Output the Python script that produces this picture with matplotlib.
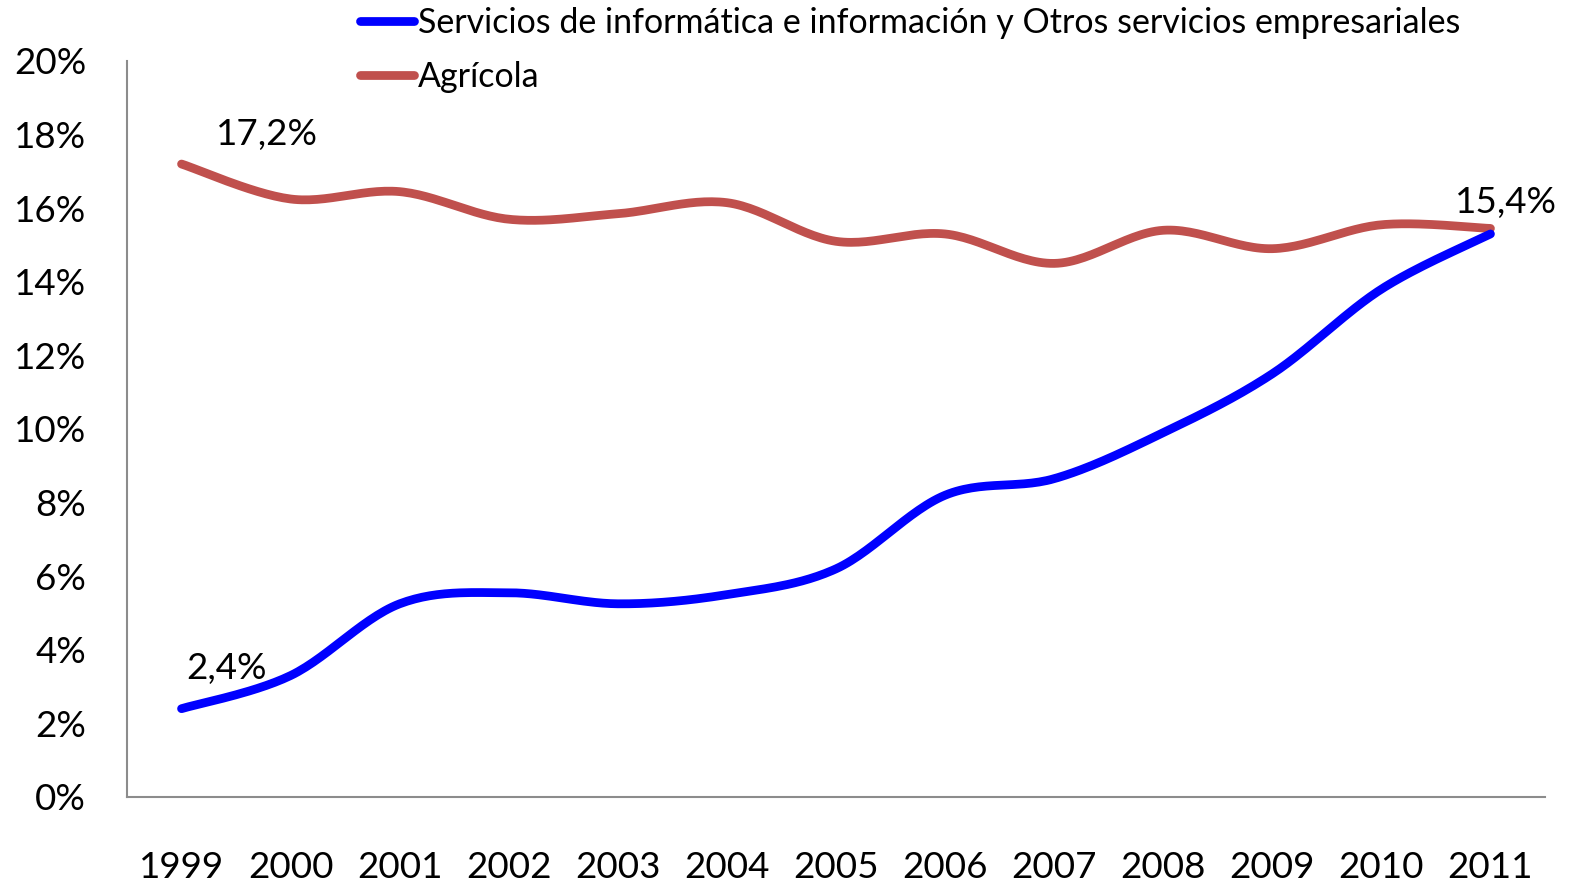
import numpy as np
import matplotlib
matplotlib.use('Agg')
import matplotlib.pyplot as plt
from matplotlib.ticker import FuncFormatter

plt.rcParams['font.family'] = ['Lato', 'DejaVu Sans']

years = ['1999', '2000', '2001', '2002', '2003', '2004', '2005',
         '2006', '2007', '2008', '2009', '2010', '2011']
servicios = [2.4, 3.3, 5.25, 5.55, 5.25, 5.5, 6.2, 8.2, 8.65, 9.9, 11.5, 13.8, 15.3]
agricola = [17.2, 16.25, 16.45, 15.7, 15.85, 16.15, 15.1, 15.3, 14.5, 15.4, 14.9, 15.55, 15.45]
name_serv = 'Servicios de informática e información y Otros servicios empresariales'
name_agri = 'Agrícola'

blue = '#0000FF'
red = '#C0504D'


def smooth(y, n=30):
    # curva suavizada tipo Excel (Catmull-Rom / Bezier)
    y = np.asarray(y, dtype=float)
    x = np.arange(len(y), dtype=float)
    pts = np.column_stack([x, y])
    out = []
    for i in range(len(pts) - 1):
        p0 = pts[max(i - 1, 0)]
        p1 = pts[i]
        p2 = pts[i + 1]
        p3 = pts[min(i + 2, len(pts) - 1)]
        c1 = p1 + (p2 - p0) / 6
        c2 = p2 - (p3 - p1) / 6
        t = np.linspace(0, 1, n)[:, None]
        seg = ((1 - t) ** 3) * p1 + 3 * ((1 - t) ** 2) * t * c1 + 3 * (1 - t) * t ** 2 * c2 + t ** 3 * p2
        out.append(seg if i == 0 else seg[1:])
    out = np.vstack(out)
    return out[:, 0], out[:, 1]


fig = plt.figure(figsize=(15.87, 8.83), dpi=100)
ax = fig.add_axes([127 / 1587, 1 - 797 / 883, (1545 - 127) / 1587, (797 - 61) / 883])

xs, ys = smooth(servicios)
ax.plot(xs, ys, color=blue, lw=6.3, solid_capstyle='round', label=name_serv, zorder=3)
xa, ya = smooth(agricola)
ax.plot(xa, ya, color=red, lw=6.3, solid_capstyle='round', label=name_agri, zorder=2)

ax.set_xlim(-0.5, len(years) - 0.5)
ax.set_ylim(0, 20)
ax.set_xticks(range(len(years)))
ax.set_xticklabels(years)
ax.set_yticks(np.arange(0, 21, 2))
ax.yaxis.set_major_formatter(FuncFormatter(lambda v, p: '{:d}%'.format(int(round(v)))))
ax.tick_params(axis='both', length=0, labelsize=26.5)
ax.tick_params(axis='x', pad=39)
ax.tick_params(axis='y', pad=29.5)

for s in ['top', 'right']:
    ax.spines[s].set_visible(False)
for s in ['left', 'bottom']:
    ax.spines[s].set_color('#8C8C8C')
    ax.spines[s].set_linewidth(1.5)

# etiquetas de datos
ax.annotate('17,2%', (0, agricola[0]), xytext=(85, 30), textcoords='offset pixels',
            ha='center', va='center', fontsize=26.5)
ax.annotate('2,4%', (0, servicios[0]), xytext=(45, 40), textcoords='offset pixels',
            ha='center', va='center', fontsize=26.5)
ax.annotate('15,4%', (12, agricola[-1]), xytext=(15, 26), textcoords='offset pixels',
            ha='center', va='center', fontsize=26.5)

fig.legend(loc='upper left', bbox_to_anchor=(360 / 1587, 1 - 7 / 883), frameon=False,
           fontsize=24.5, handlelength=1.6, handletextpad=0.1, labelspacing=0.65,
           borderaxespad=0, borderpad=0)

fig.savefig('out.png', dpi=100)
